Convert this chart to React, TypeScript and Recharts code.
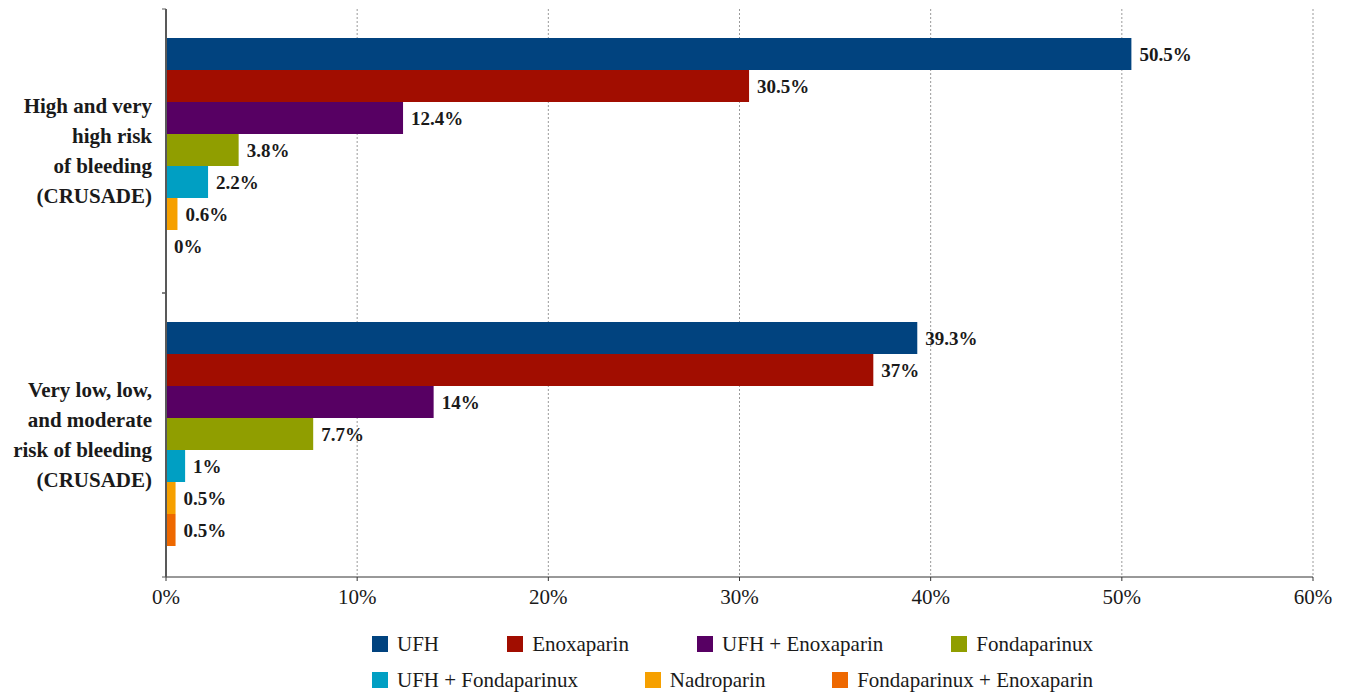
import React from "react";
import {
  BarChart,
  Bar,
  XAxis,
  YAxis,
  CartesianGrid,
  Legend,
  LabelList,
} from "recharts";

const categories = [
  "High and very high risk of bleeding (CRUSADE)",
  "Very low, low, and moderate risk of bleeding (CRUSADE)",
];
const categoryLines = [
  ["High and very", "high risk", "of bleeding", "(CRUSADE)"],
  ["Very low, low,", "and moderate", "risk of bleeding", "(CRUSADE)"],
];

const seriesNames = [
  "UFH",
  "Enoxaparin",
  "UFH + Enoxaparin",
  "Fondaparinux",
  "UFH + Fondaparinux",
  "Nadroparin",
  "Fondaparinux + Enoxaparin",
];
const seriesColors = [
  "#01437F",
  "#A10D00",
  "#570063",
  "#909E00",
  "#009FC3",
  "#F6A000",
  "#EE6800",
];

const ufh = [50.5, 39.3];
const enoxaparin = [30.5, 37];
const ufhEnoxaparin = [12.4, 14];
const fondaparinux = [3.8, 7.7];
const ufhFondaparinux = [2.2, 1];
const nadroparin = [0.6, 0.5];
const fondaEnoxaparin = [0, 0.5];

const seriesValues = [
  ufh,
  enoxaparin,
  ufhEnoxaparin,
  fondaparinux,
  ufhFondaparinux,
  nadroparin,
  fondaEnoxaparin,
];

const xTicks = [0, 10, 20, 30, 40, 50, 60];

const data = categories.map((category, i) => {
  const row: Record<string, string | number> = { category };
  seriesNames.forEach((name, s) => {
    row[name] = seriesValues[s][i];
  });
  return row;
});

const FONT = "Liberation Serif";

const CategoryTick = (props: any) => {
  const { x, y, payload } = props;
  const idx = categories.indexOf(payload.value);
  const lines = categoryLines[idx] || [String(payload.value)];
  const half = payload.offset || 142;
  const axisX = x + 8;
  const lineH = 30;
  const startDy = -((lines.length - 1) / 2) * lineH + 7;
  return (
    <g>
      <text
        x={x - 6}
        y={y}
        textAnchor="end"
        fontSize={21}
        fontWeight="bold"
        fill="#1a1a1a"
        style={{ fontFamily: FONT }}
      >
        {lines.map((l, i) => (
          <tspan key={i} x={x - 6} dy={i === 0 ? startDy : lineH}>
            {l}
          </tspan>
        ))}
      </text>
      <line x1={axisX - 4} x2={axisX} y1={y - half} y2={y - half} stroke="#595959" />
      <line x1={axisX - 4} x2={axisX} y1={y + half} y2={y + half} stroke="#595959" />
    </g>
  );
};

const legendRows = [
  [0, 1, 2, 3],
  [4, 5, 6],
];

const renderLegend = () => (
  <div style={{ fontFamily: FONT, fontSize: 21, color: "#1a1a1a" }}>
    {legendRows.map((row, r) => (
      <div
        key={r}
        style={{
          display: "flex",
          justifyContent: "space-between",
          alignItems: "center",
          height: 36,
        }}
      >
        {row.map((s) => (
          <div key={s} style={{ display: "flex", alignItems: "center" }}>
            <span
              style={{
                display: "inline-block",
                width: 16,
                height: 16,
                background: seriesColors[s],
                marginRight: 9,
              }}
            />
            <span>{seriesNames[s]}</span>
          </div>
        ))}
      </div>
    ))}
  </div>
);

// zero-valued bars still need their "0%" label
const renderValueLabel = (props: any) => {
  const { x, y, width, height, value } = props;
  return (
    <text
      x={x + width + 8}
      y={y + height / 2}
      dy={7}
      fontSize={19}
      fontWeight="bold"
      fill="#1a1a1a"
      style={{ fontFamily: FONT }}
    >
      {`${value}%`}
    </text>
  );
};

export default function App() {
  return (
    <div style={{ width: 1339, height: 686, fontFamily: FONT }}>
      <BarChart
        width={1339}
        height={686}
        data={data}
        layout="vertical"
        margin={{ top: 1, right: 34, left: 0, bottom: 77 }}
        barCategoryGap={29}
        barGap={0}
        style={{ fontFamily: FONT }}
      >
        <CartesianGrid
          horizontal={false}
          stroke="#9a9a9a"
          strokeDasharray="2 2"
        />
        <XAxis
          type="number"
          domain={[0, 60]}
          ticks={xTicks}
          tickFormatter={(v) => `${v}%`}
          height={40}
          tickSize={4}
          tickMargin={8}
          stroke="#333"
          tick={{ fill: "#1a1a1a", fontSize: 21, style: { fontFamily: FONT } }}
        />
        <YAxis
          type="category"
          dataKey="category"
          width={158}
          tickSize={6}
          tickMargin={2}
          tickLine={false}
          axisLine={{ stroke: "#595959", strokeWidth: 2 }}
          tick={<CategoryTick />}
        />
        <Legend
          layout="vertical"
          align="center"
          verticalAlign="middle"
          content={renderLegend}
          wrapperStyle={{ left: 364, top: 618, width: 721, height: 72 }}
        />
        {seriesNames.map((name, s) => (
          <Bar
            key={name}
            dataKey={name}
            fill={seriesColors[s]}
            minPointSize={0.01}
            isAnimationActive={false}
          >
            <LabelList dataKey={name} content={renderValueLabel} />
          </Bar>
        ))}
      </BarChart>
    </div>
  );
}
